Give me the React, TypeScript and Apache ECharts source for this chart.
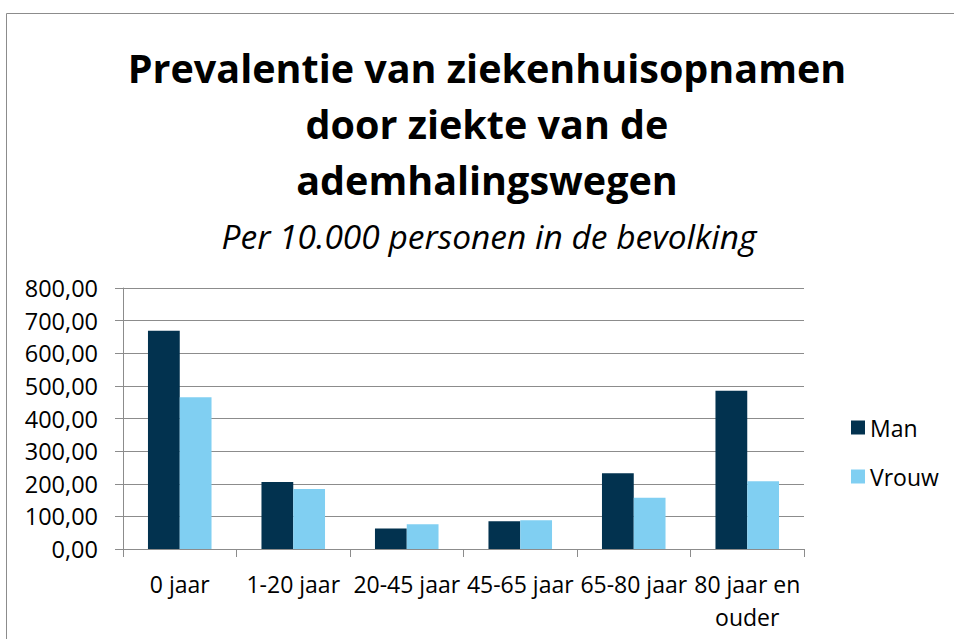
import React, { useEffect, useRef } from "react";
import * as echarts from "echarts";

const categories = ["0 jaar", "1-20 jaar", "20-45 jaar", "45-65 jaar", "65-80 jaar", "80 jaar en ouder"];
const manValues = [669, 205, 63, 85, 232, 485];
const vrouwValues = [465, 184, 76, 88, 157, 208];
const titleLines = ["Prevalentie van ziekenhuisopnamen", "door ziekte van de", "ademhalingswegen"];
const subtitle = "Per 10.000 personen in de bevolking";

const FONT = "'Open Sans', 'Noto Sans', sans-serif";

export default function App() {
  const ref = useRef<HTMLDivElement>(null);
  useEffect(() => {
    if (!ref.current) return;
    const chart = echarts.init(ref.current, null, { renderer: "svg" });
    chart.setOption({
      animation: false,
      backgroundColor: "#ffffff",
      textStyle: { fontFamily: FONT },
      graphic: [
        {
          type: "rect",
          shape: { x: 6.5, y: 13.5, width: 1000, height: 1000 },
          style: { fill: "none", stroke: "#8c8c8c", lineWidth: 1 },
          silent: true,
        },
        ...titleLines.map((t, i) => ({
          type: "text",
          x: 487,
          y: 68 + i * 56,
          style: {
            text: t,
            fontFamily: FONT,
            fontWeight: "bold",
            fontSize: 39.5,
            fill: "#000",
            textAlign: "center",
            textVerticalAlign: "middle",
          },
        })),
        {
          type: "text",
          x: 489,
          y: 236,
          style: {
            text: subtitle,
            fontFamily: FONT,
            fontStyle: "italic",
            fontSize: 33.5,
            fill: "#000",
            textAlign: "center",
            textVerticalAlign: "middle",
          },
        },
      ],
      legend: {
        orient: "vertical",
        left: 846,
        top: 411,
        itemWidth: 14,
        itemHeight: 14,
        itemGap: 26,
        icon: "rect",
        textStyle: { fontSize: 23, color: "#000", fontFamily: FONT },
        data: ["Man", "Vrouw"],
      },
      grid: { left: 123, right: 150, top: 288, bottom: 90 },
      xAxis: {
        type: "category",
        data: categories,
        axisLine: { lineStyle: { color: "#8c8c8c" } },
        axisTick: { show: true, length: 8, lineStyle: { color: "#8c8c8c" } },
        axisLabel: {
          interval: 0,
          margin: 18,
          fontSize: 23,
          lineHeight: 33,
          color: "#000",
          fontFamily: FONT,
          formatter: (v: string) => v.replace(" en ", " en\n"),
        },
      },
      yAxis: {
        type: "value",
        min: 0,
        max: 800,
        interval: 100,
        axisLine: { show: true, lineStyle: { color: "#8c8c8c" } },
        axisTick: { show: true, length: 8, lineStyle: { color: "#8c8c8c" } },
        splitLine: { lineStyle: { color: "#8c8c8c", width: 1 } },
        axisLabel: {
          margin: 25,
          fontSize: 23.5,
          color: "#000",
          fontFamily: FONT,
          formatter: (v: number) => v.toFixed(2).replace(".", ","),
        },
      },
      series: [
        {
          name: "Man",
          type: "bar",
          data: manValues,
          barGap: "0%",
          barCategoryGap: "44%",
          itemStyle: { color: "#02324f" },
        },
        {
          name: "Vrouw",
          type: "bar",
          data: vrouwValues,
          barGap: "0%",
          barCategoryGap: "44%",
          itemStyle: { color: "#80cff2" },
        },
      ],
    });
    return () => chart.dispose();
  }, []);
  return (
    <div
      ref={ref}
      style={{ position: "fixed", left: 0, top: 0, width: 954, height: 639 }}
    />
  );
}
